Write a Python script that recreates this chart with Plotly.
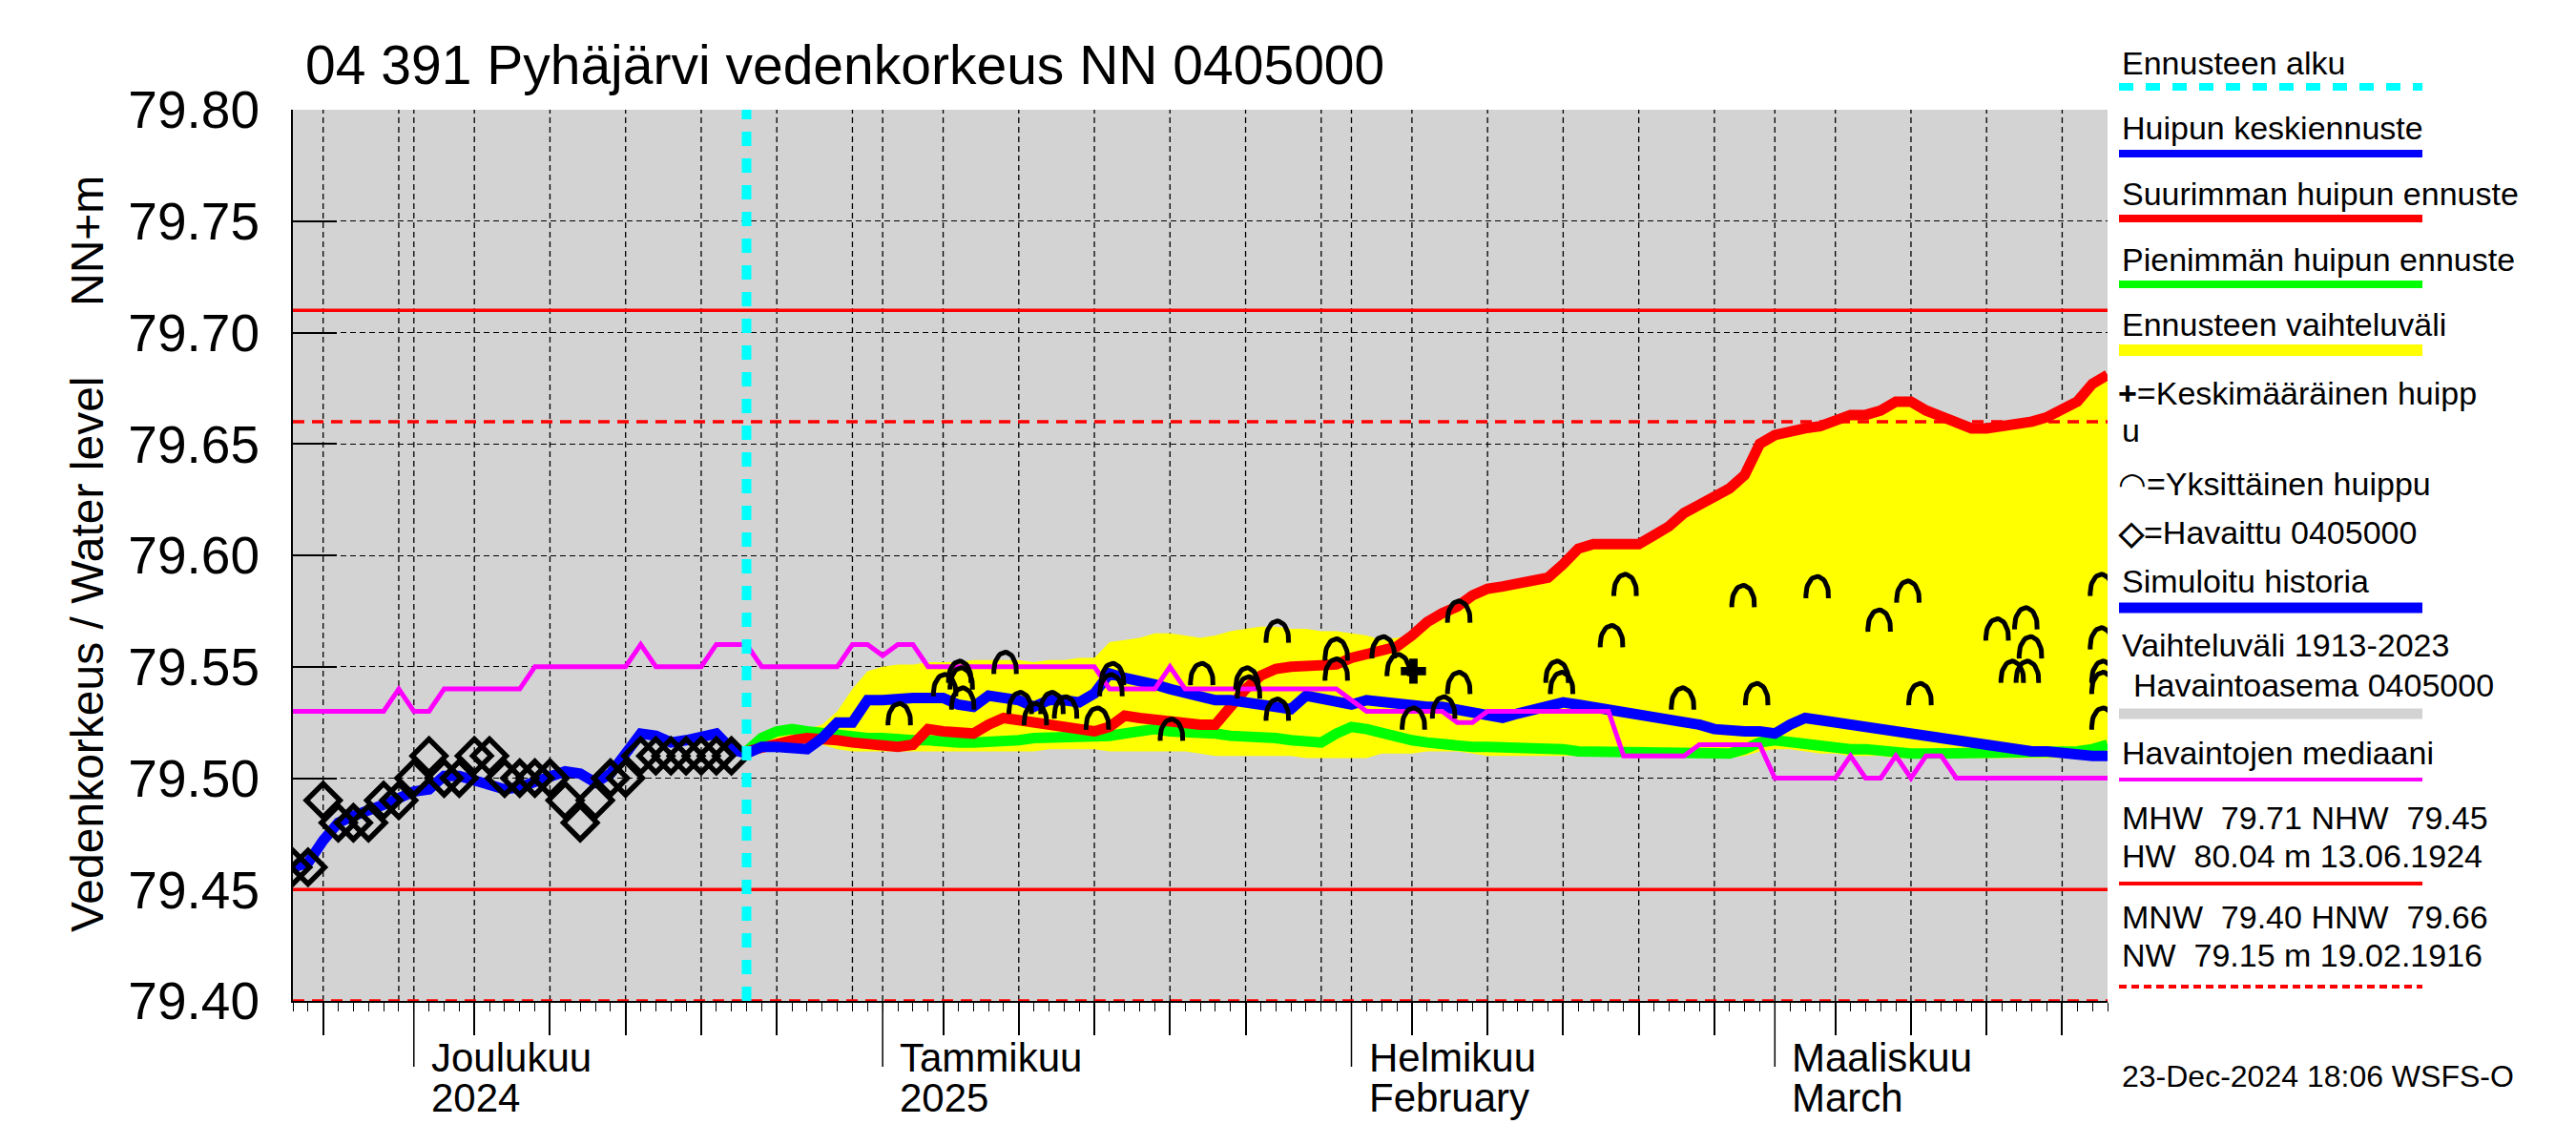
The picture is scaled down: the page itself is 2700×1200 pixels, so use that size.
import numpy as np
import pandas as pd
import plotly.graph_objects as go

# ---------------- data ----------------
start_date = pd.Timestamp("2024-11-23")
end_date = pd.Timestamp("2025-03-23")
forecast_start = pd.Timestamp("2024-12-23")

obs_days = list(range(30))
obs_vals = [79.46, 79.46, 79.49, 79.48, 79.48, 79.48, 79.49, 79.49, 79.50, 79.51,
            79.50, 79.50, 79.51, 79.51, 79.50, 79.50, 79.50, 79.50, 79.49, 79.48,
            79.49, 79.50, 79.50, 79.51, 79.51, 79.51, 79.51, 79.51, 79.51, 79.51]

sim_days = [0, 1, 2, 2.5, 3, 4, 5, 6, 7, 8, 9, 10, 11, 12, 13, 14, 15, 16, 17, 18,
            19, 20, 21, 22, 23, 24, 25, 26, 27, 28, 29, 30]
sim_vals = [79.460, 79.462, 79.472, 79.477, 79.480, 79.483, 79.485, 79.488, 79.491, 79.494,
            79.495, 79.501, 79.501, 79.499, 79.497, 79.495, 79.496, 79.498, 79.501, 79.503,
            79.502, 79.498, 79.502, 79.512, 79.520, 79.519, 79.516, 79.517, 79.519, 79.520,
            79.513, 79.511]

fc_days = list(range(30, 121))
mean_vals = [79.511, 79.514, 79.514, 79.514, 79.513, 79.518, 79.525, 79.525, 79.535, 79.535,
             79.536, 79.536, 79.536, 79.536, 79.533, 79.532, 79.537, 79.536, 79.535, 79.532,
             79.535, 79.535, 79.534, 79.538, 79.547, 79.545, 79.544, 79.542, 79.540, 79.538,
             79.536, 79.535, 79.535, 79.534, 79.534, 79.532, 79.531, 79.537, 79.536, 79.534,
             79.533, 79.535, 79.534, 79.533, 79.533, 79.532, 79.532, 79.531, 79.529, 79.528,
             79.527, 79.529, 79.531, 79.533, 79.534, 79.533, 79.532, 79.531, 79.530, 79.529,
             79.528, 79.527, 79.525, 79.524, 79.522, 79.521, 79.521, 79.521, 79.520, 79.524,
             79.527, 79.526, 79.525, 79.524, 79.522, 79.521, 79.520, 79.519, 79.518, 79.517,
             79.516, 79.515, 79.515, 79.514, 79.513, 79.512, 79.512, 79.511, 79.511, 79.510,
             79.510]
max_vals = [79.512, 79.514, 79.516, 79.517, 79.518, 79.518, 79.517, 79.516, 79.515, 79.514,
            79.514, 79.515, 79.522, 79.521, 79.520, 79.520, 79.524, 79.527, 79.526, 79.525,
            79.524, 79.523, 79.522, 79.521, 79.523, 79.528, 79.527, 79.526, 79.525, 79.525,
            79.524, 79.524, 79.532, 79.540, 79.546, 79.549, 79.550, 79.550, 79.550, 79.551,
            79.554, 79.556, 79.557, 79.559, 79.564, 79.570, 79.574, 79.577, 79.582, 79.585,
            79.586, 79.587, 79.588, 79.590, 79.596, 79.603, 79.605, 79.605, 79.604, 79.605,
            79.609, 79.613, 79.619, 79.623, 79.626, 79.630, 79.636, 79.650, 79.654, 79.656,
            79.657, 79.658, 79.661, 79.663, 79.663, 79.665, 79.669, 79.669, 79.665, 79.662,
            79.659, 79.657, 79.657, 79.658, 79.658, 79.660, 79.662, 79.665, 79.669, 79.677,
            79.681]
min_vals = [79.512, 79.518, 79.521, 79.522, 79.521, 79.520, 79.519, 79.518, 79.518, 79.518,
            79.517, 79.517, 79.517, 79.516, 79.516, 79.516, 79.516, 79.517, 79.517, 79.518,
            79.518, 79.518, 79.518, 79.518, 79.519, 79.520, 79.521, 79.522, 79.521, 79.521,
            79.520, 79.520, 79.519, 79.519, 79.518, 79.518, 79.517, 79.516, 79.516, 79.520,
            79.523, 79.522, 79.520, 79.518, 79.517, 79.516, 79.515, 79.515, 79.514, 79.514,
            79.514, 79.514, 79.513, 79.513, 79.513, 79.512, 79.512, 79.512, 79.512, 79.512,
            79.511, 79.511, 79.511, 79.511, 79.511, 79.511, 79.513, 79.516, 79.517, 79.516,
            79.515, 79.514, 79.513, 79.513, 79.513, 79.512, 79.512, 79.511, 79.511, 79.511,
            79.511, 79.511, 79.511, 79.511, 79.511, 79.511, 79.511, 79.511, 79.512, 79.513,
            79.515]
band_high = [79.512, 79.520, 79.523, 79.523, 79.522, 79.524, 79.530, 79.540, 79.548, 79.550,
             79.551, 79.551, 79.552, 79.552, 79.552, 79.553, 79.553, 79.553, 79.553, 79.552,
             79.553, 79.553, 79.554, 79.554, 79.561, 79.562, 79.563, 79.565, 79.565, 79.564,
             79.563, 79.564, 79.566, 79.567, 79.568, 79.568, 79.567, 79.567, 79.566, 79.566,
             79.565, 79.564, 79.562, 79.563, 79.564, 79.570, 79.574, 79.577, 79.582, 79.585,
             79.586, 79.587, 79.588, 79.590, 79.596, 79.603, 79.605, 79.605, 79.604, 79.605,
             79.609, 79.613, 79.619, 79.623, 79.626, 79.630, 79.636, 79.650, 79.654, 79.656,
             79.657, 79.658, 79.661, 79.663, 79.663, 79.665, 79.669, 79.669, 79.665, 79.662,
             79.659, 79.657, 79.657, 79.658, 79.658, 79.660, 79.662, 79.665, 79.669, 79.677,
             79.681]
band_low = [79.511, 79.512, 79.513, 79.514, 79.516, 79.515, 79.513, 79.512, 79.512, 79.512,
            79.512, 79.512, 79.512, 79.512, 79.512, 79.512, 79.512, 79.512, 79.512, 79.512,
            79.513, 79.513, 79.513, 79.513, 79.512, 79.512, 79.512, 79.512, 79.512, 79.512,
            79.511, 79.510, 79.510, 79.510, 79.510, 79.510, 79.510, 79.509, 79.509, 79.509,
            79.509, 79.509, 79.511, 79.511, 79.511, 79.512, 79.512, 79.512, 79.511, 79.510,
            79.510, 79.510, 79.510, 79.510, 79.510, 79.510, 79.510, 79.510, 79.510, 79.510,
            79.510, 79.510, 79.510, 79.510, 79.509, 79.509, 79.510, 79.512, 79.513, 79.513,
            79.512, 79.511, 79.511, 79.510, 79.510, 79.510, 79.509, 79.509, 79.509, 79.509,
            79.509, 79.509, 79.509, 79.509, 79.509, 79.509, 79.509, 79.509, 79.510, 79.511,
            79.512]

median_days = list(range(121))
median_vals = [79.53, 79.53, 79.53, 79.53, 79.53, 79.53, 79.53, 79.54, 79.53, 79.53,
               79.54, 79.54, 79.54, 79.54, 79.54, 79.54, 79.55, 79.55, 79.55, 79.55,
               79.55, 79.55, 79.55, 79.56, 79.55, 79.55, 79.55, 79.55, 79.56, 79.56,
               79.56, 79.55, 79.55, 79.55, 79.55, 79.55, 79.55, 79.56, 79.56, 79.555,
               79.56, 79.56, 79.55, 79.55, 79.55, 79.55, 79.55, 79.55, 79.55, 79.55,
               79.55, 79.55, 79.55, 79.55, 79.54, 79.54, 79.54, 79.54, 79.55, 79.54,
               79.54, 79.54, 79.54, 79.54, 79.54, 79.54, 79.54, 79.54, 79.54, 79.54,
               79.535, 79.53, 79.53, 79.53, 79.53, 79.53, 79.53, 79.525, 79.525, 79.53,
               79.53, 79.53, 79.53, 79.53, 79.53, 79.53, 79.53, 79.53, 79.51, 79.51,
               79.51, 79.51, 79.51, 79.515, 79.515, 79.515, 79.515, 79.515, 79.50, 79.50,
               79.50, 79.50, 79.50, 79.51, 79.50, 79.50, 79.51, 79.50, 79.51, 79.51,
               79.50, 79.50, 79.50, 79.50, 79.50, 79.50, 79.50, 79.50, 79.50, 79.50,
               79.50]

peak_days = [40.1, 43.1, 44.1, 44.2, 44.3, 47.1, 48.1, 49.1, 50.2, 51.1,
             53.2, 54.1, 54.2, 58.1, 60.1, 63.1, 63.2, 65.1, 65.1, 69.0,
             69.0, 72.1, 73.1, 74.1, 76.1, 77.1, 77.1, 83.6, 83.9, 87.2,
             88.1, 91.9, 95.9, 96.8, 100.8, 104.9, 106.8, 107.6, 112.7, 113.7,
             114.6, 114.7, 114.9, 119.6, 119.6, 119.7, 119.7, 119.7]
peak_vals = [79.529, 79.542, 79.548, 79.545, 79.536, 79.552, 79.534, 79.529, 79.534, 79.532,
             79.527, 79.542, 79.547, 79.522, 79.547, 79.545, 79.541, 79.566, 79.531, 79.558,
             79.549, 79.559, 79.551, 79.527, 79.532, 79.543, 79.575, 79.548, 79.543, 79.564,
             79.587, 79.536, 79.582, 79.538, 79.586, 79.571, 79.584, 79.538, 79.567, 79.548,
             79.572, 79.548, 79.559, 79.587, 79.563, 79.548, 79.543, 79.527]

mean_peak_day = [74.1]
mean_peak_val = [79.548]

MHW, NHW, HNW, MNW = 79.71, 79.45, 79.66, 79.40
y_ticks = [79.40, 79.45, 79.50, 79.55, 79.60, 79.65, 79.70, 79.75, 79.80]
month_starts = ["2024-12-01", "2025-01-01", "2025-02-01", "2025-03-01"]
month_fi = ["Joulukuu", "Tammikuu", "Helmikuu", "Maaliskuu"]
month_en = ["2024", "2025", "February", "March"]
major_ticks = ["2024-11-25", "2024-12-05", "2024-12-10", "2024-12-15", "2024-12-20",
               "2024-12-25", "2025-01-05", "2025-01-10", "2025-01-15", "2025-01-20",
               "2025-01-25", "2025-02-05", "2025-02-10", "2025-02-15", "2025-02-20",
               "2025-02-25", "2025-03-05", "2025-03-10", "2025-03-15", "2025-03-20"]
grid_extra = ["2024-11-30", "2024-12-30", "2025-01-30"]

# ---------------- helpers ----------------
def to_dates(days):
    return [start_date + pd.Timedelta(days=float(d)) for d in days]

W, H = 2700, 1200
L, R, T, B = 299, 2201, 107, 1041
PW, PH = R - L, B - T

def px(xp):
    return (xp - L) / PW

def py(yp):
    return (B - yp) / PH

FONT = "Liberation Sans, Arial, Helvetica, sans-serif"

fig = go.Figure()

# yellow band
fc_x = to_dates(fc_days)
fig.add_trace(go.Scatter(x=fc_x, y=band_low, mode="lines", line=dict(width=0, color="#ffff00"),
                         hoverinfo="skip", showlegend=False))
fig.add_trace(go.Scatter(x=fc_x, y=band_high, mode="lines", line=dict(width=0, color="#ffff00"),
                         fill="tonexty", fillcolor="#ffff00", hoverinfo="skip", showlegend=False))
# min / max / mean
fig.add_trace(go.Scatter(x=fc_x, y=min_vals, mode="lines", line=dict(width=11, color="#00ff00"),
                         showlegend=False))
fig.add_trace(go.Scatter(x=fc_x, y=max_vals, mode="lines", line=dict(width=11, color="#ff0000"),
                         showlegend=False))
fig.add_trace(go.Scatter(x=to_dates(sim_days), y=sim_vals, mode="lines",
                         line=dict(width=11, color="#0000ff"), showlegend=False))
fig.add_trace(go.Scatter(x=fc_x, y=mean_vals, mode="lines", line=dict(width=11, color="#0000ff"),
                         showlegend=False))
# median
fig.add_trace(go.Scatter(x=to_dates(median_days), y=median_vals, mode="lines",
                         line=dict(width=5, color="#ff00ff"), showlegend=False))

# individual peaks as arcs (symbol geometry around each data point)
t = np.linspace(-0.15, np.pi + 0.15, 25)
ax_, ay_ = [], []
for d, v in zip(peak_days, peak_vals):
    base = v - 0.004
    for tt in t:
        ax_.append(start_date + pd.Timedelta(days=float(d + 0.75 * np.cos(tt))))
        ay_.append(base + 0.0085 * np.sin(tt))
    ax_.append(None)
    ay_.append(None)
fig.add_trace(go.Scatter(x=ax_, y=ay_, mode="lines", line=dict(width=5, color="black"),
                         connectgaps=False, showlegend=False))
# mean peak
fig.add_trace(go.Scatter(x=to_dates(mean_peak_day), y=mean_peak_val, mode="markers",
                         marker=dict(symbol="cross", size=22, color="black"), showlegend=False))
# observations
fig.add_trace(go.Scatter(x=to_dates(obs_days), y=obs_vals, mode="markers",
                         marker=dict(symbol="diamond-open", size=27, color="black",
                                     line=dict(width=5.5, color="black")),
                         showlegend=False))

shapes = []
# vertical grid lines
for d in major_ticks + grid_extra + month_starts:
    shapes.append(dict(type="line", xref="x", yref="paper", x0=d, x1=d, y0=0, y1=1,
                       line=dict(color="black", width=1.3, dash="6px,4px"), layer="below"))
# month long ticks
for d in month_starts:
    shapes.append(dict(type="line", xref="x", yref="paper", x0=d, x1=d, y0=0, y1=-69 / PH,
                       line=dict(color="black", width=1.5)))
# reference lines
for val, dash in [(MHW, "solid"), (NHW, "solid"), (HNW, "12px,8px"), (MNW, "12px,8px")]:
    shapes.append(dict(type="line", xref="paper", yref="y", x0=0, x1=1, y0=val, y1=val,
                       line=dict(color="#ff0000", width=3.5, dash=dash), layer="above"))
# forecast start
shapes.append(dict(type="line", xref="x", yref="paper", x0=forecast_start, x1=forecast_start,
                   y0=0, y1=1, line=dict(color="#00ffff", width=10, dash="15px,13px"),
                   layer="above"))

# legend key lines
lx0, lx1 = px(2213), px(2531)
legend_lines = [
    (83, "#00ffff", 8, "15px,13px"),
    (153, "#0000ff", 8, "solid"),
    (221, "#ff0000", 8, "solid"),
    (290, "#00ff00", 8, "solid"),
    (359, "#ffff00", 12, "solid"),
    (629, "#0000ff", 11, "solid"),
    (740, "#d3d3d3", 11, "solid"),
    (809, "#ff00ff", 4, "solid"),
    (918, "#ff0000", 4, "solid"),
    (1026, "#ff0000", 4, "8px,5px"),
]
for yy, col, wd, dash in legend_lines:
    shapes.append(dict(type="line", xref="paper", yref="paper", x0=lx0, x1=lx1,
                       y0=py(yy), y1=py(yy), line=dict(color=col, width=wd, dash=dash)))

annotations = []
def txt(x, y, s, size=34, anchor="left", angle=0):
    annotations.append(dict(xref="paper", yref="paper", x=px(x), y=py(y), text=s,
                            showarrow=False, xanchor=anchor, yanchor="middle",
                            textangle=angle, font=dict(family=FONT, size=size, color="black")))

txt(310, 60, "04 391 Pyhäjärvi vedenkorkeus NN 0405000", size=57)
txt(83, 678, "Vedenkorkeus / Water level", size=48, anchor="center", angle=-90)
txt(83, 245, "NN+m", size=48, anchor="center", angle=-90)

legend_texts = [
    (2214, 58, "Ennusteen alku"),
    (2214, 126, "Huipun keskiennuste"),
    (2214, 195, "Suurimman huipun ennuste"),
    (2214, 264, "Pienimmän huipun ennuste"),
    (2214, 332, "Ennusteen vaihteluväli"),
    (2210, 404, "<b>+</b>=Keskimääräinen huipp"),
    (2214, 443, "u"),
    (2210, 499, "◠=Yksittäinen huippu"),
    (2210, 550, "<b>◇</b>=Havaittu 0405000"),
    (2214, 601, "Simuloitu historia"),
    (2214, 668, "Vaihteluväli 1913-2023"),
    (2226, 710, "Havaintoasema 0405000"),
    (2214, 781, "Havaintojen mediaani"),
    (2214, 849, "MHW  79.71 NHW  79.45"),
    (2214, 889, "HW  80.04 m 13.06.1924"),
    (2214, 953, "MNW  79.40 HNW  79.66"),
    (2214, 993, "NW  79.15 m 19.02.1916"),
]
for x, y, s in legend_texts:
    txt(x, y, s)
txt(2214, 1120, "23-Dec-2024 18:06 WSFS-O", size=32)

# month labels
for d, fi, en in zip(month_starts, month_fi, month_en):
    for lab, yy in [(fi, 1100), (en, 1142)]:
        annotations.append(dict(xref="x", yref="paper", x=d, y=py(yy), xshift=16, text=lab,
                                showarrow=False, xanchor="left", yanchor="middle",
                                font=dict(family=FONT, size=42, color="black")))

fig.update_layout(
    width=W, height=H,
    margin=dict(l=L, r=W - R, t=T, b=H - B, pad=0),
    paper_bgcolor="white", plot_bgcolor="#d3d3d3",
    font=dict(family=FONT, color="black"),
    showlegend=False,
    shapes=shapes, annotations=annotations,
    xaxis=dict(
        type="date", range=[start_date, end_date],
        tickmode="array", tickvals=major_ticks, ticks="outside", ticklen=34, tickwidth=1.5,
        tickcolor="black", showticklabels=False, showgrid=False, zeroline=False,
        showline=True, linecolor="black", linewidth=2,
        minor=dict(tickmode="linear", tick0="2024-11-23", dtick=86400000, ticks="outside",
                   ticklen=9, tickwidth=1, tickcolor="black", showgrid=False),
    ),
    yaxis=dict(
        range=[79.40, 79.80], tickmode="array", tickvals=y_ticks,
        ticktext=[f"{v:.2f}" for v in y_ticks],
        ticks="inside", ticklen=46, tickwidth=2, tickcolor="black",
        tickfont=dict(family=FONT, size=55, color="black"), ticklabelstandoff=22,
        showgrid=True, gridcolor="black", gridwidth=1.3, griddash="6px,4px",
        zeroline=False, showline=True, linecolor="black", linewidth=2,
    ),
)

fig.write_html("out.html")
